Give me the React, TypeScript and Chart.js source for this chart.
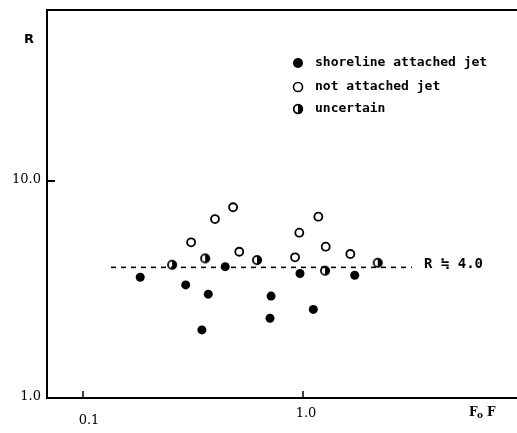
import React, { useEffect, useRef } from 'react';
import { Chart, registerables } from 'chart.js';
Chart.register(...registerables);

const attachedX = [0.182, 0.293, 0.371, 0.347, 0.443, 0.716, 0.708, 0.969, 1.114, 1.718];
const attachedY = [3.6, 3.32, 3.01, 2.06, 4.03, 2.95, 2.33, 3.75, 2.56, 3.68];
const notAttachedX = [0.31, 0.398, 0.481, 0.513, 0.962, 0.92, 1.174, 1.268, 1.641];
const notAttachedY = [5.22, 6.68, 7.57, 4.72, 5.78, 4.45, 6.85, 4.98, 4.61];
const uncertainX = [0.254, 0.359, 0.618, 1.259, 2.185];
const uncertainY = [4.11, 4.4, 4.32, 3.86, 4.2];
const refLineX = [0.134, 3.13];
const refLineY = [4.0, 4.0];
const xTicks = [0.1, 1.0];
const xTickLabels = ['0.1', '1.0'];
const yTicks = [1.0, 10.0];
const yTickLabels = ['1.0', '10.0'];
const legendLabels = ['shoreline attached jet', 'not attached jet', 'uncertain'];
const refLabel = 'R \u2252 4.0';

function makeHalf(r: number) {
  const c = document.createElement('canvas');
  const s = Math.ceil(r * 2 + 4);
  c.width = s;
  c.height = s;
  const g = c.getContext('2d')!;
  const m = s / 2;
  g.fillStyle = '#fff';
  g.beginPath();
  g.arc(m, m, r, 0, Math.PI * 2);
  g.fill();
  g.fillStyle = '#000';
  g.beginPath();
  g.arc(m, m, r, -Math.PI / 2, Math.PI / 2);
  g.closePath();
  g.fill();
  g.strokeStyle = '#000';
  g.lineWidth = 1.8;
  g.beginPath();
  g.arc(m, m, r - 0.5, 0, Math.PI * 2);
  g.stroke();
  return c;
}

const decor = {
  id: 'decor',
  afterDraw(chart: any) {
    const { ctx, chartArea } = chart;
    const xs = chart.scales.x;
    const ys = chart.scales.y;
    ctx.save();
    ctx.strokeStyle = '#000';
    ctx.lineWidth = 2;
    ctx.beginPath();
    ctx.moveTo(chartArea.left, chartArea.top);
    ctx.lineTo(chartArea.right, chartArea.top);
    ctx.stroke();
    ctx.lineWidth = 1.5;
    xTicks.forEach((v) => {
      const px = xs.getPixelForValue(v);
      ctx.beginPath();
      ctx.moveTo(px, chartArea.bottom);
      ctx.lineTo(px, chartArea.bottom - 7);
      ctx.stroke();
    });
    yTicks.forEach((v, i) => {
      const py = ys.getPixelForValue(v);
      if (i > 0) {
        ctx.lineWidth = 2;
        ctx.beginPath();
        ctx.moveTo(chartArea.left, py);
        ctx.lineTo(chartArea.left + 8, py);
        ctx.stroke();
      }
    });
    ctx.fillStyle = '#000';
    ctx.font = '13px "DejaVu Serif"';
    ctx.textBaseline = 'middle';
    ctx.textAlign = 'center';
    xTicks.forEach((v, i) => {
      const px = xs.getPixelForValue(v);
      ctx.fillText(xTickLabels[i], px + (i === 0 ? 6 : 3), chartArea.bottom + (i === 0 ? 23 : 16));
    });
    ctx.textAlign = 'right';
    yTicks.forEach((v, i) => {
      const py = ys.getPixelForValue(v);
      ctx.fillText(yTickLabels[i], chartArea.left - 6, py - 1);
    });
    ctx.font = 'bold 13px "DejaVu Sans"';
    ctx.textAlign = 'left';
    ctx.fillText('R', 24, 40);
    ctx.font = 'bold 12px "DejaVu Serif"';
    ctx.fillText('F', 469, 413);
    ctx.font = 'bold 9px "DejaVu Serif"';
    ctx.fillText('o', 477, 416);
    ctx.font = 'bold 12px "DejaVu Serif"';
    ctx.fillText('F', 487, 413);
    ctx.font = 'bold 14px "DejaVu Sans Mono"';
    ctx.textAlign = 'left';
    ctx.fillText(refLabel, 424, ys.getPixelForValue(4.0) - 3);
    const lx = 298;
    const ly = [63, 87, 109];
    ctx.font = 'bold 13px "DejaVu Sans Mono"';
    legendLabels.forEach((t, i) => {
      const y = ly[i];
      if (i === 0) {
        ctx.fillStyle = '#000';
        ctx.beginPath();
        ctx.arc(lx, y, 5, 0, Math.PI * 2);
        ctx.fill();
      } else if (i === 1) {
        ctx.strokeStyle = '#000';
        ctx.lineWidth = 1.6;
        ctx.beginPath();
        ctx.arc(lx, y, 4.5, 0, Math.PI * 2);
        ctx.stroke();
      } else {
        const img = makeHalf(4.8);
        ctx.drawImage(img, lx - img.width / 2, y - img.height / 2);
      }
      ctx.fillStyle = '#000';
      ctx.fillText(t, 315, y);
    });
    ctx.restore();
  },
};

export default function App() {
  const ref = useRef<HTMLCanvasElement>(null);
  useEffect(() => {
    const half = makeHalf(4.6);
    const chart = new Chart(ref.current!, {
      type: 'scatter',
      data: {
        datasets: [
          {
            label: 'ref',
            type: 'line',
            data: refLineX.map((x, i) => ({ x, y: refLineY[i] })),
            borderColor: '#000',
            borderWidth: 1.6,
            borderDash: [5, 5],
            pointRadius: 0,
            fill: false,
          } as any,
          {
            label: legendLabels[0],
            data: attachedX.map((x, i) => ({ x, y: attachedY[i] })),
            backgroundColor: '#000',
            borderColor: '#000',
            pointRadius: 4.5,
            borderWidth: 0,
          },
          {
            label: legendLabels[1],
            data: notAttachedX.map((x, i) => ({ x, y: notAttachedY[i] })),
            backgroundColor: '#fff',
            borderColor: '#000',
            pointRadius: 4,
            borderWidth: 1.8,
          },
          {
            label: legendLabels[2],
            data: uncertainX.map((x, i) => ({ x, y: uncertainY[i] })),
            pointStyle: half as any,
            pointRadius: 5,
          },
        ],
      },
      options: {
        animation: false,
        responsive: false,
        layout: { autoPadding: false, padding: { left: 47, top: 10, right: 0, bottom: 35 } },
        plugins: { legend: { display: false }, tooltip: { enabled: false } },
        scales: {
          x: {
            type: 'logarithmic',
            min: 0.0686,
            max: 9.39,
            grid: { display: false, drawTicks: false },
            ticks: { display: false },
            border: { display: true, color: '#000', width: 2 },
          },
          y: {
            type: 'logarithmic',
            min: 1,
            max: 61.4,
            grid: { display: false, drawTicks: false },
            ticks: { display: false },
            border: { display: true, color: '#000', width: 2 },
          },
        },
      },
      plugins: [decor],
    });
    return () => chart.destroy();
  }, []);
  return (
    <div style={{ position: 'absolute', left: 0, top: 0, width: 517, height: 433, background: '#fff' }}>
      <canvas ref={ref} width={517} height={433} style={{ width: 517, height: 433, display: 'block' }} />
    </div>
  );
}
